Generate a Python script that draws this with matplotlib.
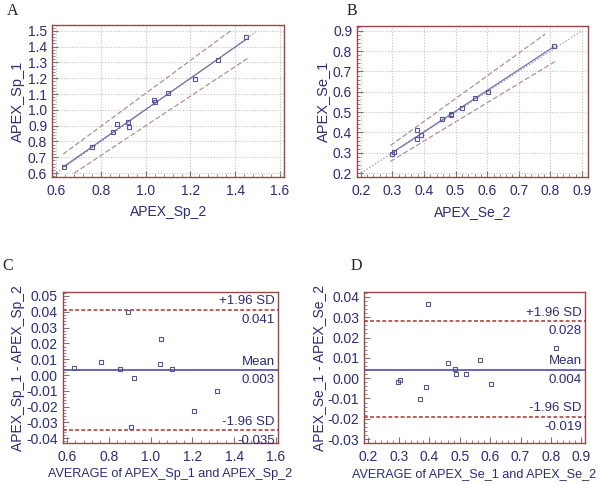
import numpy as np
import matplotlib
matplotlib.use("Agg")
import matplotlib.pyplot as plt
from matplotlib.ticker import MultipleLocator, AutoMinorLocator, FormatStrFormatter
from matplotlib.transforms import blended_transform_factory

plt.rcParams["font.family"] = ["Liberation Sans", "DejaVu Sans"]

sp_1 = [0.6361, 0.7662, 0.8568, 0.9099, 0.8906, 0.9201,
        1.0486, 1.0615, 1.1048, 1.1966, 1.3130, 1.4600]
sp_2 = [0.6319, 0.7578, 0.8532, 0.8701, 0.9235, 0.9220,
        1.0414, 1.0385, 1.1012, 1.2194, 1.3231, 1.4500]
se_1 = [0.2961, 0.3035, 0.3658, 0.3858, 0.4142, 0.4648,
        0.4882, 0.4890, 0.5210, 0.5705, 0.6005, 0.8254]
se_2 = [0.2979, 0.3046, 0.3763, 0.3902, 0.3778, 0.4573,
        0.4839, 0.4870, 0.5190, 0.5616, 0.6036, 0.8106]

# dashed band end points
sp_upper_x, sp_upper_y = [0.63, 1.38], [0.72, 1.50]
sp_lower_x, sp_lower_y = [0.68, 1.456], [0.60, 1.326]
se_upper_x, se_upper_y = [0.294, 0.784], [0.336, 0.884]
se_lower_x, se_lower_y = [0.294, 0.814], [0.258, 0.748]

# Bland-Altman limits as labelled
sp_limits = {"mean": 0.003, "upper": 0.041, "lower": -0.035}
se_limits = {"mean": 0.004, "upper": 0.028, "lower": -0.019}

NAVY = "#2c2c78"
FRAME = "#9a4646"
PT_COL = "#55559a"


def style_axes(ax, grid=False):
    for s in ax.spines.values():
        s.set_color(FRAME)
        s.set_linewidth(1.0)
    ax.tick_params(which="both", direction="in", colors="#777777",
                   labelcolor=NAVY, labelsize=10)
    ax.tick_params(which="major", length=4)
    ax.tick_params(which="minor", length=2)
    ax.tick_params(axis="x", which="major", pad=5)
    ax.xaxis.set_minor_locator(AutoMinorLocator(5))
    ax.yaxis.set_minor_locator(AutoMinorLocator(5))
    if grid:
        ax.grid(True, which="major", linestyle=(0, (1, 1.5)),
                color="#c4c4c4", linewidth=0.8)
        ax.set_axisbelow(True)


def scatter_panel(ax, x, y, ux, uy, lx, ly, lim_x, lim_y, ident):
    x = np.asarray(x)
    y = np.asarray(y)
    ax.plot(ident, ident, linestyle=(0, (1.5, 1.5)), color="#a0a0b8", lw=0.8)
    k, b = np.polyfit(x, y, 1)
    xr = np.array([x.min(), x.max()])
    ax.plot(xr, k * xr + b, color="#7070aa", lw=0.9)
    ax.plot(ux, uy, linestyle=(0, (4, 2)), color="#b88c8c", lw=0.9)
    ax.plot(lx, ly, linestyle=(0, (4, 2)), color="#b88c8c", lw=0.9)
    ax.plot(x, y, linestyle="none", marker="s", markersize=2.8,
            markerfacecolor="none", markeredgecolor=PT_COL, markeredgewidth=0.8)
    ax.set_xlim(*lim_x)
    ax.set_ylim(*lim_y)


def ba_panel(ax, a, b, lims, lim_x, lim_y):
    a = np.asarray(a)
    b = np.asarray(b)
    avg = (a + b) / 2
    diff = a - b
    ax.axhline(lims["mean"], color="#5a5aaa", lw=1.3)
    for key in ("upper", "lower"):
        ax.axhline(lims[key], color="#a83030", lw=1.1, linestyle=(0, (2.5, 1.5)))
    ax.plot(avg, diff, linestyle="none", marker="s", markersize=2.8,
            markerfacecolor="none", markeredgecolor=PT_COL, markeredgewidth=0.8)
    tr = blended_transform_factory(ax.transAxes, ax.transData)
    labels = {"upper": "+1.96 SD", "mean": "Mean", "lower": "-1.96 SD"}
    for key, lab in labels.items():
        v = lims[key]
        ax.annotate(lab, (0.985, v), xycoords=tr, xytext=(0, 2),
                    textcoords="offset points", ha="right", va="bottom",
                    color=NAVY, fontsize=9.5,
                    bbox=dict(facecolor="white", edgecolor="none", pad=0.5))
        ax.annotate(f"{v:.3f}", (0.985, v), xycoords=tr, xytext=(0, -3),
                    textcoords="offset points", ha="right", va="top",
                    color=NAVY, fontsize=9.5)
    ax.set_xlim(*lim_x)
    ax.set_ylim(*lim_y)


fig = plt.figure(figsize=(6, 4.84), dpi=100)

# A
axA = fig.add_axes([0.0867, 0.635, 0.387, 0.313])
style_axes(axA, grid=True)
scatter_panel(axA, sp_2, sp_1, sp_upper_x, sp_upper_y, sp_lower_x, sp_lower_y,
              (0.58, 1.62), (0.577, 1.536), [0.6, 1.5])
axA.xaxis.set_major_locator(MultipleLocator(0.2))
axA.yaxis.set_major_locator(MultipleLocator(0.1))
axA.xaxis.set_major_formatter(FormatStrFormatter("%.1f"))
axA.yaxis.set_major_formatter(FormatStrFormatter("%.1f"))
axA.set_xlabel("APEX_Sp_2", color=NAVY, fontsize=10, labelpad=5)
axA.set_ylabel("APEX_Sp_1", color=NAVY, fontsize=10.5, labelpad=2)

# B
axB = fig.add_axes([0.595, 0.635, 0.385, 0.312])
style_axes(axB, grid=True)
scatter_panel(axB, se_2, se_1, se_upper_x, se_upper_y, se_lower_x, se_lower_y,
              (0.188, 0.919), (0.183, 0.925), [0.2, 0.9])
axB.xaxis.set_major_locator(MultipleLocator(0.1))
axB.yaxis.set_major_locator(MultipleLocator(0.1))
axB.xaxis.set_major_formatter(FormatStrFormatter("%.1f"))
axB.yaxis.set_major_formatter(FormatStrFormatter("%.1f"))
axB.set_xlabel("APEX_Se_2", color=NAVY, fontsize=10, labelpad=5)
axB.set_ylabel("APEX_Se_1", color=NAVY, fontsize=10.5, labelpad=2)

# C
axC = fig.add_axes([0.1045, 0.084, 0.359, 0.312])
style_axes(axC)
ba_panel(axC, sp_1, sp_2, sp_limits, (0.58, 1.61), (-0.0432, 0.0523))
axC.xaxis.set_major_locator(MultipleLocator(0.2))
axC.yaxis.set_major_locator(MultipleLocator(0.01))
axC.xaxis.set_major_formatter(FormatStrFormatter("%.1f"))
axC.yaxis.set_major_formatter(FormatStrFormatter("%.2f"))
axC.set_xlabel("AVERAGE of APEX_Sp_1 and APEX_Sp_2", color=NAVY, fontsize=9.1, labelpad=3)
axC.set_ylabel("APEX_Sp_1 - APEX_Sp_2", color=NAVY, fontsize=10, labelpad=1)

# D
axD = fig.add_axes([0.607, 0.084, 0.368, 0.313])
style_axes(axD)
ba_panel(axD, se_1, se_2, se_limits, (0.186, 0.912), (-0.0321, 0.0425))
axD.xaxis.set_major_locator(MultipleLocator(0.1))
axD.yaxis.set_major_locator(MultipleLocator(0.01))
axD.xaxis.set_major_formatter(FormatStrFormatter("%.1f"))
axD.yaxis.set_major_formatter(FormatStrFormatter("%.2f"))
axD.set_xlabel("AVERAGE of APEX_Se_1 and APEX_Se_2", color=NAVY, fontsize=9.1, labelpad=3)
axD.set_ylabel("APEX_Se_1 - APEX_Se_2", color=NAVY, fontsize=10, labelpad=1)

# panel letters
for lab, (px, py) in {"A": (0.012, 0.978), "B": (0.578, 0.978),
                      "C": (0.004, 0.45), "D": (0.585, 0.45)}.items():
    fig.text(px, py, lab, family="Liberation Serif", fontsize=11.5,
             ha="left", va="center", color="#222222")

fig.savefig("out.png", dpi=100)
